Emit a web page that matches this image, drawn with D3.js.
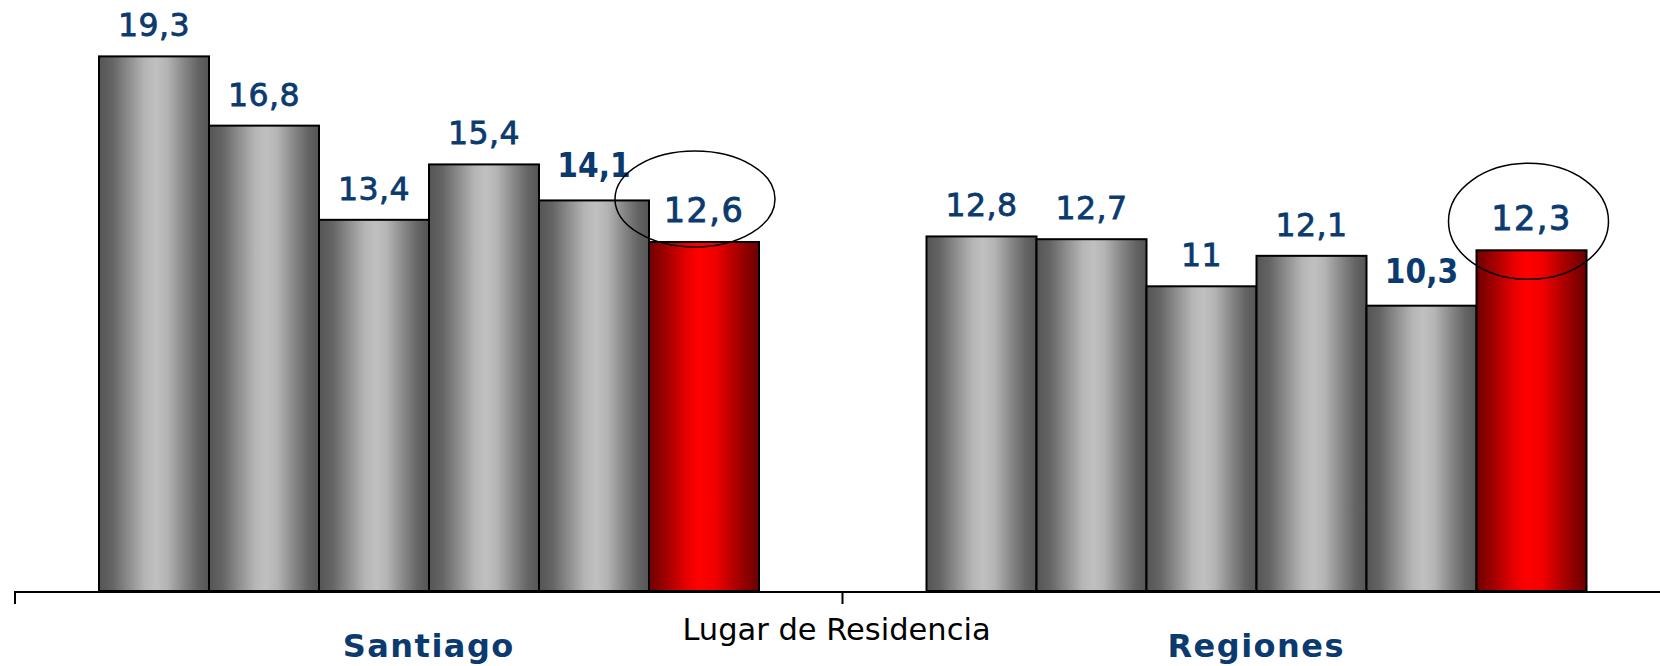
<!DOCTYPE html>
<html>
<head>
<meta charset="utf-8">
<script src="https://cdn.jsdelivr.net/npm/d3@7"></script>
<style>
  html, body { margin: 0; padding: 0; background: #ffffff; }
  svg { display: block; }
</style>
</head>
<body>
<svg id="chart" width="1660" height="666"></svg>
<script>
// ---- data ----
const groups = ["Santiago", "Regiones"];
const santiagoValues = [19.3, 16.8, 13.4, 15.4, 14.1, 12.6];
const regionesValues = [12.8, 12.7, 11, 12.1, 10.3, 12.3];
const valueLabelsSantiago = ["19,3", "16,8", "13,4", "15,4", "14,1", "12,6"];
const valueLabelsRegiones = ["12,8", "12,7", "11", "12,1", "10,3", "12,3"];
const boldLabelIndex = 4;      // "14,1" and "10,3" are bold
const highlightIndex = 5;      // red bar, circled
const axisTitle = "Lugar de Residencia";

const seriesByGroup = {
  "Santiago": { values: santiagoValues, labels: valueLabelsSantiago },
  "Regiones": { values: regionesValues, labels: valueLabelsRegiones }
};

// ---- layout ----
const svg = d3.select("#chart");
const baseY = 591;
const x0 = d3.scaleBand().domain(groups).range([15, 15 + 2 * 827.5]).padding(0);
const x1 = d3.scaleBand().domain(d3.range(santiagoValues.length)).range([84, 744]).padding(0);
const y = d3.scaleLinear().domain([0, 20]).range([baseY, baseY - 20 * 27.7]);

// ---- gradients ----
const defs = svg.append("defs");
const grayG = defs.append("linearGradient").attr("id", "gray").attr("x1", "0").attr("x2", "1").attr("y1", "0").attr("y2", "0");
[[0, "#555555"], [0.12, "#646464"], [0.28, "#909090"], [0.42, "#b6b6b6"], [0.52, "#c0c0c0"], [0.62, "#b4b4b4"], [0.76, "#8a8a8a"], [0.9, "#646464"], [1, "#555555"]]
  .forEach(([o, c]) => grayG.append("stop").attr("offset", o).attr("stop-color", c));
const redG = defs.append("linearGradient").attr("id", "red").attr("x1", "0").attr("x2", "1").attr("y1", "0").attr("y2", "0");
[[0, "#700000"], [0.15, "#a00000"], [0.32, "#e00000"], [0.45, "#ff0000"], [0.6, "#f20000"], [0.78, "#b00000"], [1, "#6a0000"]]
  .forEach(([o, c]) => redG.append("stop").attr("offset", o).attr("stop-color", c));

// ---- bars ----
const g = svg.selectAll("g.group").data(groups).enter().append("g")
  .attr("class", "group")
  .attr("transform", d => `translate(${x0(d)},0)`);

g.selectAll("rect").data(d => seriesByGroup[d].values.map((v, i) => ({ v, i })))
  .enter().append("rect")
  .attr("x", d => x1(d.i))
  .attr("y", d => y(d.v))
  .attr("width", x1.bandwidth())
  .attr("height", d => y(0) - y(d.v))
  .attr("fill", d => d.i === highlightIndex ? "url(#red)" : "url(#gray)")
  .attr("stroke", "#000")
  .attr("stroke-width", 2);

// ---- axis ----
const axis = d3.axisBottom(x0).tickSize(12).tickFormat("");
const axisG = svg.append("g").attr("transform", `translate(0,${baseY + 1})`).call(axis);
axisG.select(".domain").attr("stroke", "#000").attr("stroke-width", 2)
  .attr("d", `M${x0.range()[0]},12V0H${x0.range()[1]}`);
axisG.selectAll(".tick").remove();
[x0.range()[0], x0(groups[1])].forEach(xx => {
  axisG.append("line").attr("x1", xx).attr("x2", xx).attr("y1", 0).attr("y2", 12)
    .attr("stroke", "#000").attr("stroke-width", 2);
});

// ---- value labels ----
function labelStyle(i) {
  if (i === boldLabelIndex) return { family: "'DejaVu Sans Condensed', 'DejaVu Sans', sans-serif", size: 33, weight: "bold", ls: 0, stroke: 0, gap: 23 };
  if (i === highlightIndex) return { family: "'DejaVu Sans', Verdana, sans-serif", size: 33.5, weight: "normal", ls: 1.5, stroke: 0.9, gap: 20 };
  return { family: "'DejaVu Sans', Verdana, sans-serif", size: 31.5, weight: "normal", ls: 0.5, stroke: 0.8, gap: 20 };
}
g.selectAll("text.val").data(d => seriesByGroup[d].values.map((v, i) => ({ v, i, label: seriesByGroup[d].labels[i], s: labelStyle(i) })))
  .enter().append("text")
  .attr("class", "val")
  .attr("x", d => x1(d.i) + x1.bandwidth() / 2)
  .attr("y", d => y(d.v) - d.s.gap)
  .attr("text-anchor", "middle")
  .attr("font-family", d => d.s.family)
  .attr("font-size", d => d.s.size)
  .attr("font-weight", d => d.s.weight)
  .attr("letter-spacing", d => d.s.ls)
  .attr("fill", "#0b3a6e")
  .attr("stroke", "#0b3a6e")
  .attr("stroke-width", d => d.s.stroke)
  .text(d => d.label);

// ---- highlight ellipses ----
const ellipseSpec = { "Santiago": { dx: -9, dy: -43, rx: 80, ry: 48 }, "Regiones": { dx: -3, dy: -29, rx: 80, ry: 58 } };
g.append("ellipse")
  .attr("cx", d => x1(highlightIndex) + x1.bandwidth() / 2 + ellipseSpec[d].dx)
  .attr("cy", d => y(seriesByGroup[d].values[highlightIndex]) + ellipseSpec[d].dy)
  .attr("rx", d => ellipseSpec[d].rx)
  .attr("ry", d => ellipseSpec[d].ry)
  .attr("fill", "none")
  .attr("stroke", "#000")
  .attr("stroke-width", 1.5);

// ---- category labels ----
svg.selectAll("text.cat").data(groups).enter().append("text")
  .attr("class", "cat")
  .attr("x", d => x0(d) + x0.bandwidth() / 2)
  .attr("y", 657)
  .attr("text-anchor", "middle")
  .attr("font-family", "'DejaVu Sans', Verdana, sans-serif")
  .attr("font-weight", "bold")
  .attr("font-size", 32)
  .attr("letter-spacing", 1.5)
  .attr("fill", "#0b3a6e")
  .text(d => d);

// ---- axis title ----
svg.append("text")
  .attr("x", x0(groups[1]) - 6)
  .attr("y", 640)
  .attr("text-anchor", "middle")
  .attr("font-family", "'DejaVu Sans', Verdana, sans-serif")
  .attr("font-size", 30.5)
  .attr("fill", "#000")
  .text(axisTitle);
</script>
</body>
</html>
